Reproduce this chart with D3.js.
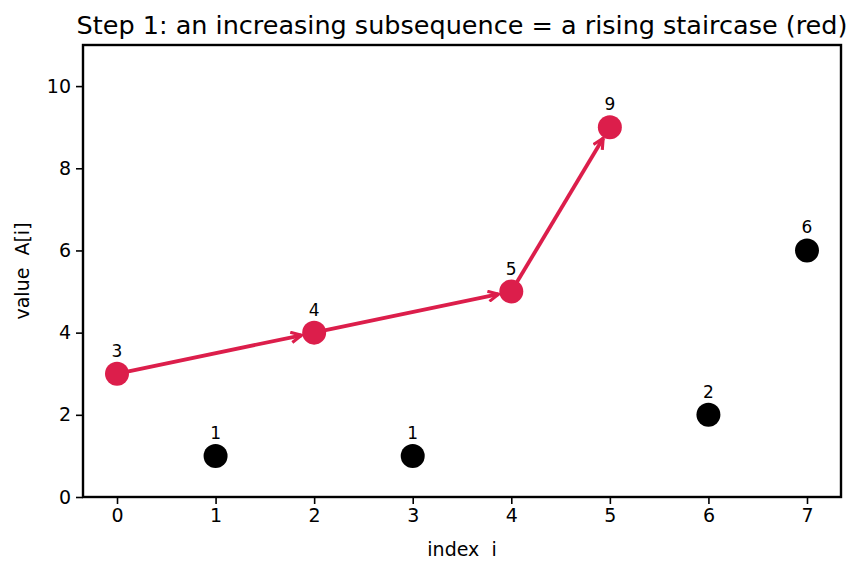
<!DOCTYPE html>
<html><head><meta charset="utf-8">
<script src="https://cdn.jsdelivr.net/npm/d3@7"></script>
<style>body{margin:0;background:#fff}svg{display:block;font-family:"DejaVu Sans",sans-serif}text{white-space:pre}</style>
</head><body><svg id="c" width="863" height="573"></svg>
<script>
const indices = [0,1,2,3,4,5,6,7];
const values = [3,1,4,1,5,9,2,6];
const chosen = [0,2,4,5];
const xTicks = [0,1,2,3,4,5,6,7];
const yTicks = [0,2,4,6,8,10];
const title = "Step 1: an increasing subsequence = a rising staircase (red)";

const svg = d3.select("#c");
const L=83,R=841,T=45,B=497;
const x = d3.scaleLinear().domain([-0.345,7.345]).range([L,R]);
const y = d3.scaleLinear().domain([0,11]).range([B,T]);
const red = "#dc1e4b";

const defs = svg.append("defs");
defs.append("marker").attr("id","arr").attr("viewBox","0 0 10 10").attr("refX",9).attr("refY",5)
  .attr("markerWidth",3.4).attr("markerHeight",3.4).attr("markerUnits","strokeWidth").attr("orient","auto")
  .append("path").attr("d","M1,1 L9,5 L1,9").attr("fill","none").attr("stroke",red).attr("stroke-width",2.4);

const xa = svg.append("g").attr("transform",`translate(0,${B})`).call(d3.axisBottom(x).tickValues(xTicks).tickSize(7).tickPadding(5).tickFormat(d3.format("d")));
const ya = svg.append("g").attr("transform",`translate(${L},0)`).call(d3.axisLeft(y).tickValues(yTicks).tickSize(7).tickPadding(5).tickFormat(d3.format("d")));
[xa,ya].forEach(a=>{a.select(".domain").remove();a.selectAll("text").attr("font-size",19).attr("fill","#000").attr("font-family","DejaVu Sans");a.selectAll("line").attr("stroke","#000").attr("stroke-width",1.6);});
svg.append("rect").attr("x",L).attr("y",T).attr("width",R-L).attr("height",B-T).attr("fill","none").attr("stroke","#000").attr("stroke-width",2.4);

// arrows
const rr = 12;
for(let k=0;k<chosen.length-1;k++){
  const a=chosen[k], b=chosen[k+1];
  const x1=x(indices[a]),y1=y(values[a]),x2=x(indices[b]),y2=y(values[b]);
  const dx=x2-x1,dy=y2-y1,len=Math.hypot(dx,dy),ux=dx/len,uy=dy/len;
  svg.append("line").attr("x1",x1+ux*2).attr("y1",y1+uy*2).attr("x2",x2-ux*(rr+1)).attr("y2",y2-uy*(rr+1))
    .attr("stroke",red).attr("stroke-width",3.8).attr("marker-end","url(#arr)");
}
svg.selectAll("circle.p").data(indices).enter().append("circle")
  .attr("cx",d=>x(d)).attr("cy",d=>y(values[d])).attr("r",rr)
  .attr("fill",d=>chosen.includes(d)?red:"#000");
svg.selectAll("text.v").data(indices).enter().append("text")
  .attr("x",d=>x(d)).attr("y",d=>y(values[d])-17).attr("text-anchor","middle")
  .attr("font-size",17).text(d=>values[d]);

svg.append("text").attr("x",(L+R)/2).attr("y",34).attr("text-anchor","middle").attr("font-size",25.5).text(title);
svg.append("text").attr("x",(L+R)/2).attr("y",556).attr("text-anchor","middle").attr("font-size",19).text("index  i");
svg.append("text").attr("transform",`translate(29,${(T+B)/2}) rotate(-90)`).attr("text-anchor","middle").attr("font-size",19).text("value  A[i]");
</script></body></html>
